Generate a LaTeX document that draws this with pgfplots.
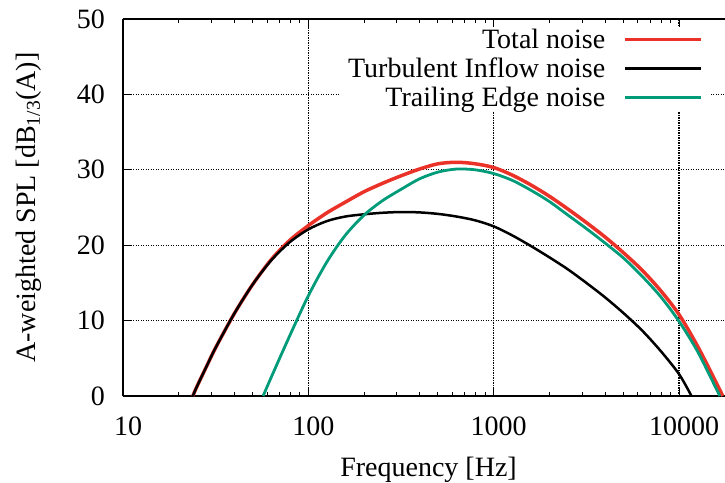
\documentclass[border=0pt]{standalone}
\usepackage{fontspec}
\setmainfont{Liberation Serif}
\usepackage{pgfplots}
\pgfplotsset{compat=1.18}
\definecolor{tnred}{RGB}{235,50,40}
\definecolor{tegreen}{RGB}{0,155,120}
\begin{document}
\fontsize{28bp}{31bp}\selectfont
\begin{tikzpicture}
\begin{axis}[
  scale only axis, width=602bp, height=377bp,
  xmode=log, xmin=10, xmax=17700, ymin=0, ymax=50,
  axis x line*=box, axis y line*=left,
  axis line style={line width=1.2bp, -},
  xtick={10,100,1000,10000}, xticklabels={10,100,1000,10000},
  minor xtick={20,30,40,50,60,70,80,90,200,300,400,500,600,700,800,900,2000,3000,4000,5000,6000,7000,8000,9000},
  ytick={0,10,20,30,40,50},
  tick align=inside, major tick length=8bp, minor tick length=4bp,
  tick style={black, line width=1bp},
  xmajorgrids, ymajorgrids,
  major grid style={black, line width=1.3bp, dash pattern=on 1.2bp off 1.3bp},
  /pgf/number format/assume math mode=true,
  xticklabel style={anchor=base, yshift=-39bp, xshift=5bp, inner sep=0pt},
  yticklabel style={anchor=east, inner sep=0pt, xshift=-18bp},
  xlabel={Frequency [Hz]},
  xlabel style={at={(axis description cs:0.5075,-0.2122)}, anchor=base},
  ylabel={A-weighted SPL [dB\textsubscript{1/3}(A)]},
  ylabel style={at={(axis description cs:-0.1196,0.5)}, anchor=south},
  legend style={at={(axis description cs:0.9767,0.980)}, anchor=north east, draw=none, fill=white,
    inner xsep=8bp, inner ysep=4bp, row sep=11bp, column sep=18bp,
    nodes={inner sep=0pt, text height=18bp, text depth=0bp}},
  legend cell align=right, legend plot pos=right,
  legend image code/.code={\draw[#1] (0bp,0bp) -- (76bp,0bp);},
]
\addplot[color=tnred, line width=3.5bp, smooth] table {
23.8 0
25.1 1.3
28.2 3.9
31.6 6.4
39.8 10.9
50.1 14.8
63.1 18.1
79.4 20.65
100 22.6
126 24.3
158 25.7
200 27.1
251 28.2
316 29.2
398 30.1
501 30.8
631 31.0
794 30.8
1000 30.3
1259 29.3
1585 28.0
1995 26.5
2512 24.8
3162 23.0
3981 21.1
5012 19.0
6310 16.7
7943 14.0
10000 10.8
12590 6.6
15850 1.8
17200 0
};
\addlegendentry{Total noise}
\addplot[color=black, line width=2.5bp, smooth] table {
23.8 0
25.1 1.3
28.2 3.9
31.6 6.4
39.8 10.9
50.1 14.8
63.1 18.0
79.4 20.4
100 22.1
126 23.2
158 23.8
200 24.1
251 24.3
316 24.4
398 24.35
501 24.15
631 23.8
794 23.3
1000 22.5
1259 21.3
1585 19.9
1995 18.4
2512 16.8
3162 15.0
3981 13.1
5012 11.0
6310 8.7
7943 6.0
10000 2.9
11670 0
};
\addlegendentry{Turbulent Inflow noise}
\addplot[color=tegreen, line width=2.8bp, smooth] table {
57 0
63.1 2.5
79.4 8.0
100 13.3
126 17.8
158 21.3
200 24.0
251 25.9
316 27.4
398 28.8
501 29.7
631 30.1
794 30.0
1000 29.5
1259 28.6
1585 27.3
1995 25.8
2512 24.0
3162 22.2
3981 20.3
5012 18.3
6310 15.9
7943 13.2
10000 9.9
12590 5.9
15850 1.0
16600 0
};
\addlegendentry{Trailing Edge noise}
\end{axis}
\pgfresetboundingbox
\path (-123bp,-87bp) rectangle (602bp,396bp);
\end{tikzpicture}
\end{document}
